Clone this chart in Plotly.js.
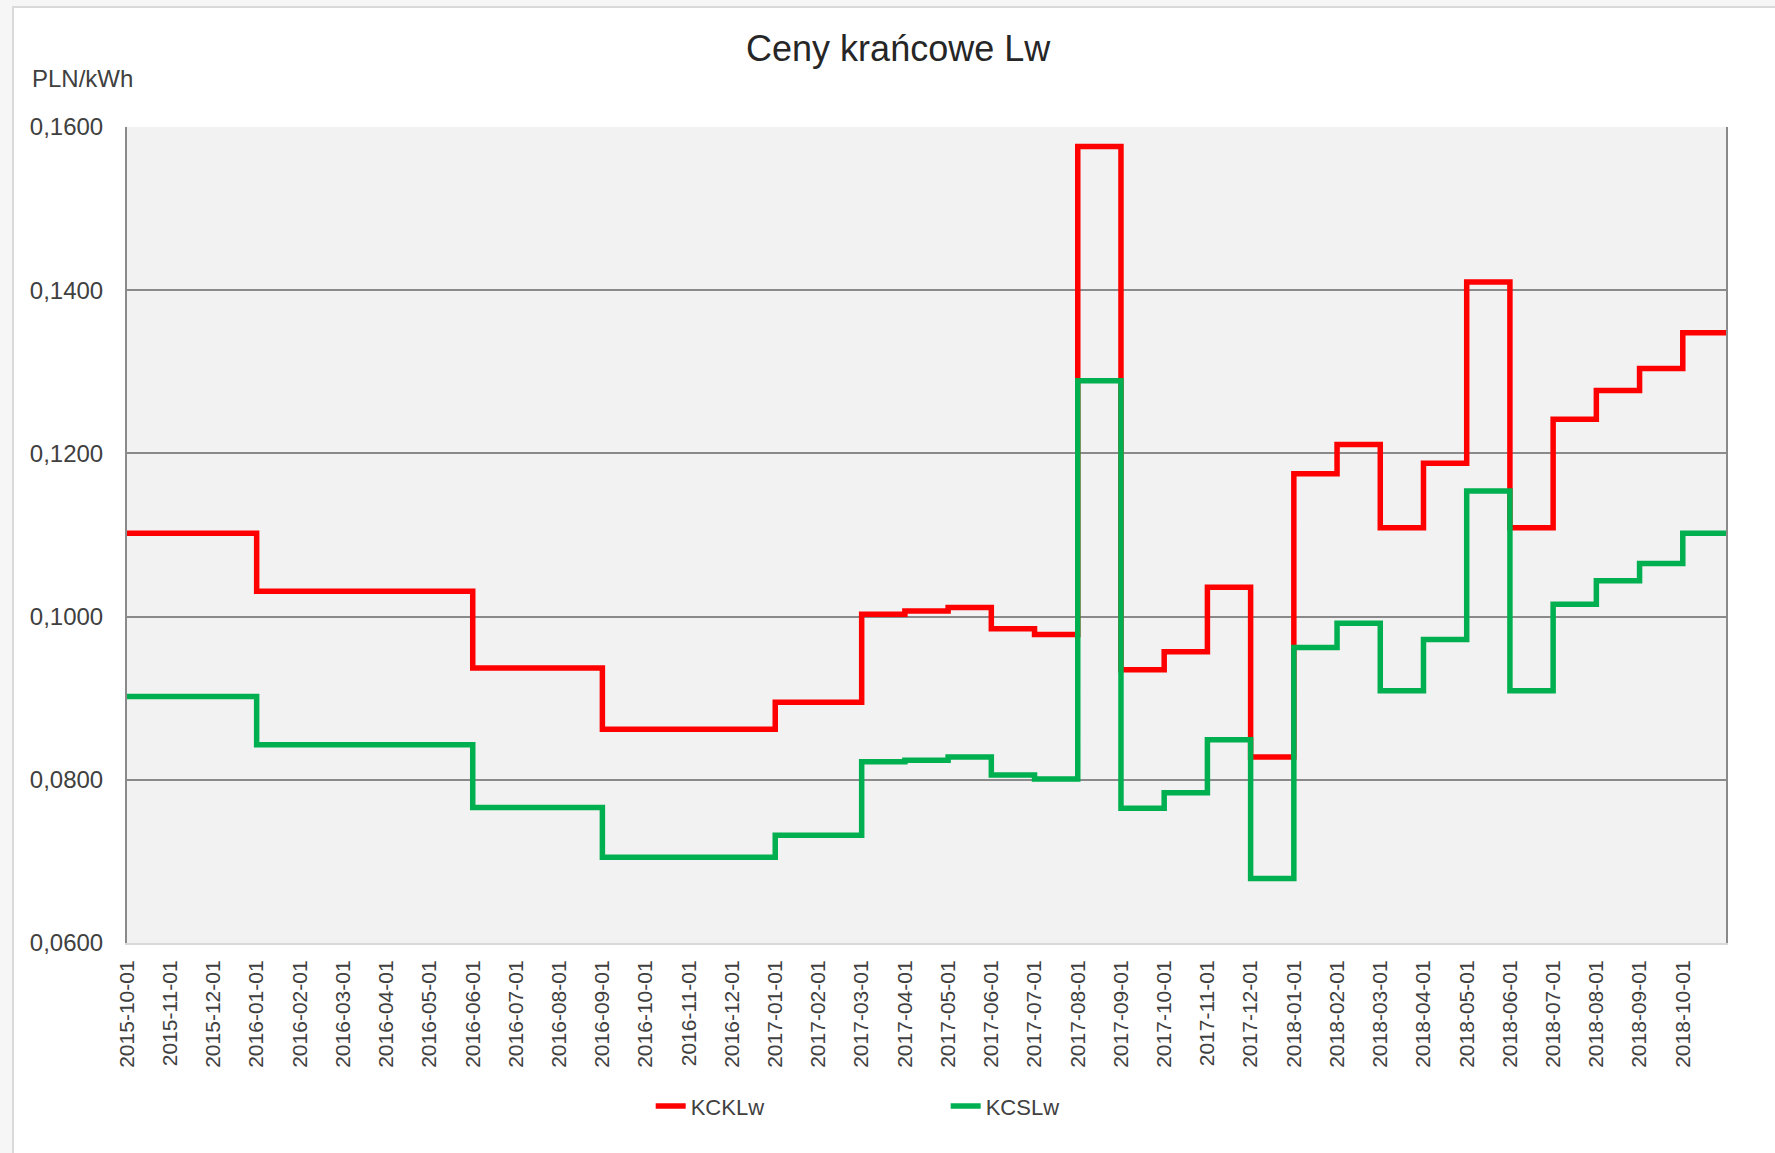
<!DOCTYPE html>
<html>
<head>
<meta charset="utf-8">
<script src="https://cdn.plot.ly/plotly-3.0.1.min.js"></script>
<style>
  html, body { margin: 0; padding: 0; background: #f6f6f6; }
  #card {
    position: absolute; left: 12px; top: 6px; width: 1763px; height: 1147px;
    background: #fff; border-left: 2px solid #d9d9d9; border-top: 2px solid #d9d9d9;
  }
  #myChart { position: absolute; left: 0; top: 0; width: 1775px; height: 1153px; }
</style>
</head>
<body>
<div id="card"></div>
<div id="myChart"></div>
<script>
'use strict';

const months = [
  '2015-10-01', '2015-11-01', '2015-12-01',
  '2016-01-01', '2016-02-01', '2016-03-01', '2016-04-01', '2016-05-01', '2016-06-01',
  '2016-07-01', '2016-08-01', '2016-09-01', '2016-10-01', '2016-11-01', '2016-12-01',
  '2017-01-01', '2017-02-01', '2017-03-01', '2017-04-01', '2017-05-01', '2017-06-01',
  '2017-07-01', '2017-08-01', '2017-09-01', '2017-10-01', '2017-11-01', '2017-12-01',
  '2018-01-01', '2018-02-01', '2018-03-01', '2018-04-01', '2018-05-01', '2018-06-01',
  '2018-07-01', '2018-08-01', '2018-09-01', '2018-10-01'
];

const kcklw = [
  0.1102, 0.1102, 0.1102,
  0.1031, 0.1031, 0.1031, 0.1031, 0.1031, 0.0937,
  0.0937, 0.0937, 0.0862, 0.0862, 0.0862, 0.0862,
  0.0895, 0.0895, 0.1003, 0.1007, 0.1011, 0.0985,
  0.0978, 0.1576, 0.0935, 0.0957, 0.1036, 0.0828,
  0.1175, 0.1211, 0.1109, 0.1188, 0.1410, 0.1109,
  0.1242, 0.1277, 0.1304, 0.1348
];

const kcslw = [
  0.0902, 0.0902, 0.0902,
  0.0843, 0.0843, 0.0843, 0.0843, 0.0843, 0.0766,
  0.0766, 0.0766, 0.0705, 0.0705, 0.0705, 0.0705,
  0.0732, 0.0732, 0.0822, 0.0824, 0.0828, 0.0806,
  0.0801, 0.1289, 0.0765, 0.0784, 0.0849, 0.0679,
  0.0962, 0.0992, 0.0909, 0.0972, 0.1154, 0.0909,
  0.1015, 0.1044, 0.1065, 0.1102
];

const yTicks = [0.06, 0.08, 0.10, 0.12, 0.14, 0.16];

const FONT = 'Liberation Sans, Arial, sans-serif';

// each month is one slot; the last step runs on to the end of its month
const stepX = arr => Array.from({ length: arr.length + 1 }, (_, i) => i);
const stepY = arr => [...arr, arr[arr.length - 1]];

function renderGraph() {
  const traces = [
    {
      x: stepX(kcklw),
      y: stepY(kcklw),
      name: 'KCKLw',
      mode: 'lines',
      line: { color: '#ff0000', width: 5.5, shape: 'hv' }
    },
    {
      x: stepX(kcslw),
      y: stepY(kcslw),
      name: 'KCSLw',
      mode: 'lines',
      line: { color: '#00b050', width: 5.5, shape: 'hv' }
    }
  ];

  const layout = {
    width: 1775,
    height: 1153,
    paper_bgcolor: 'rgba(0,0,0,0)',
    plot_bgcolor: '#f2f2f2',
    separators: ', ',
    font: { family: FONT, color: '#404040', size: 22 },
    margin: { t: 127, b: 210, l: 127, r: 49 },
    title: {
      text: 'Ceny krańcowe Lw',
      font: { family: FONT, size: 36, color: '#262626' },
      x: 0.506, xanchor: 'center',
      y: 1 - 48 / 1153, yanchor: 'middle', yref: 'container'
    },
    showlegend: true,
    legend: {
      orientation: 'h',
      x: 0.512, xanchor: 'center',
      y: -0.2, yanchor: 'middle',
      bgcolor: 'rgba(0,0,0,0)',
      font: { size: 22, color: '#404040' },
      entrywidth: 250
    },
    xaxis: {
      range: [0, months.length],
      tickmode: 'array',
      tickvals: months.map((_, i) => i),
      ticktext: months,
      tickangle: -90,
      tickfont: { size: 21, color: '#404040' },
      ticks: '',
      ticklabelstandoff: 7,
      showgrid: false,
      zeroline: false,
      showline: true,
      linecolor: '#d9d9d9',
      linewidth: 2,
      fixedrange: true
    },
    yaxis: {
      range: [0.06, 0.16],
      tickmode: 'array',
      tickvals: yTicks,
      tickformat: '.4f',
      tickfont: { size: 24, color: '#404040' },
      ticks: '',
      ticklabelstandoff: 17,
      showgrid: true,
      gridcolor: '#8a8a8a',
      gridwidth: 2,
      zeroline: false,
      showline: true,
      linecolor: '#8a8a8a',
      linewidth: 2,
      mirror: true,
      fixedrange: true
    },
    annotations: [
      {
        text: 'PLN/kWh',
        xref: 'paper', yref: 'paper',
        x: -97 / 1599, y: 1 + 48 / 816,
        xanchor: 'left', yanchor: 'middle',
        showarrow: false,
        font: { size: 24, color: '#404040' }
      }
    ]
  };

  Plotly.newPlot('myChart', traces, layout, { displayModeBar: false, staticPlot: true });
}

renderGraph();
</script>
</body>
</html>
